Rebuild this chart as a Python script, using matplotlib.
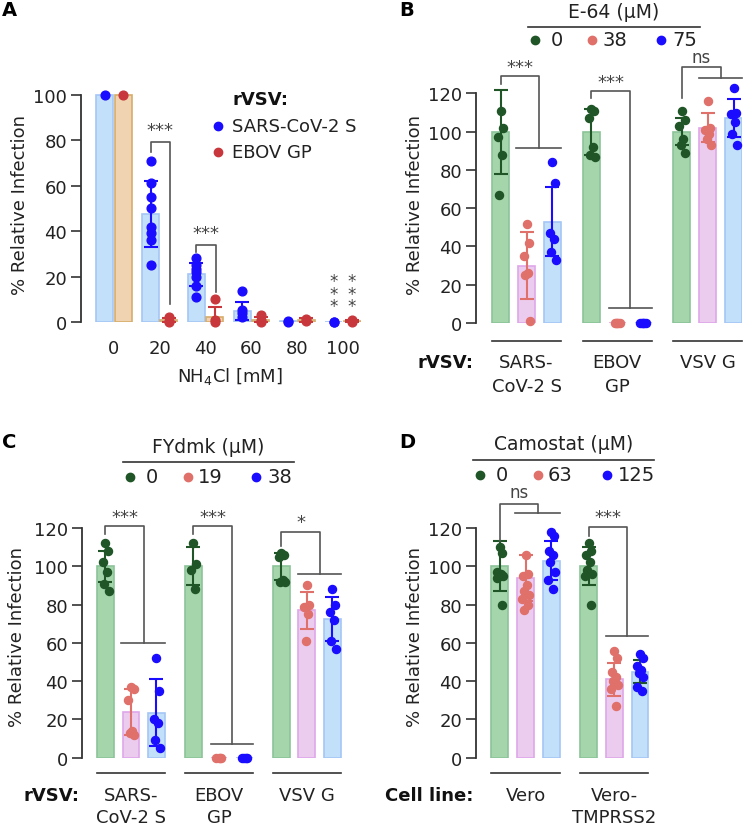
import numpy as np
import matplotlib
matplotlib.use('Agg')
import matplotlib.pyplot as plt
from matplotlib.lines import Line2D

plt.rcParams['font.family'] = ['DejaVu Sans']

# ---- data ----
# A: NH4Cl titration
nh4_conc = ['0', '20', '40', '60', '80', '100']
a_sars_mean = [100, 47.5, 21, 5, 0.3, 0]
a_sars_sd = [0, 14.5, 5, 4, 0, 0]
a_sars_pts = [[100], [71, 61, 55, 50, 42, 39, 36, 25], [28, 25, 23.5, 22, 20, 16, 11],
              [13.5, 5.5, 4, 2], [0.4, 0.2], [0.1, 0]]
a_ebov_mean = [100, 1, 2, 1, 0.8, 0.5]
a_ebov_sd = [0, 0.8, 4.5, 1, 0.8, 0.3]
a_ebov_pts = [[100], [2, 0.5, 0], [10, 1, 0], [3, 1, 0], [1.5, 0.5], [1, 0.2]]

# B: E-64
b_groups = ['SARS-\nCoV-2 S', 'EBOV\nGP', 'VSV G']
b_doses = ['0', '38', '75']
b_mean = [[100, 30, 53], [100, 0, 0], [100, 102, 107]]
b_sd = [[22, 17.5, 18], [12, 0, 0], [7, 7.5, 10]]
b_pts = [[[111, 102, 97, 88, 67], [52, 42, 35, 26, 25, 1], [84, 73, 47, 44, 37, 33]],
         [[112, 111, 107, 92, 88, 87], [0, 0, 0, 0, 0], [0, 0, 0, 0, 0]],
         [[111, 106, 103, 96, 93, 89], [116, 102, 101, 99, 96, 93], [123, 110, 109, 105, 99, 93]]]

# C: FYdmk
c_groups = ['SARS-\nCoV-2 S', 'EBOV\nGP', 'VSV G']
c_doses = ['0', '19', '38']
c_mean = [[100, 24, 23.5], [100, 0, 0], [100, 77, 72.5]]
c_sd = [[8, 12, 17.5], [10, 0, 0], [7, 9.5, 11.5]]
c_pts = [[[112, 108, 102, 97, 91, 87], [37, 36, 30, 14, 13, 12], [52, 35, 20, 18, 9, 5]],
         [[112, 101, 98, 88], [0, 0, 0, 0], [0, 0, 0, 0]],
         [[107, 106, 105, 93, 92, 92], [90, 80, 79, 75, 61], [88, 80, 76, 72, 61, 57]]]

# D: Camostat
d_groups = ['Vero', 'Vero-\nTMPRSS2']
d_doses = ['0', '63', '125']
d_mean = [[100, 94, 103], [100, 41, 45]]
d_sd = [[13, 12, 10], [10, 8.5, 6]]
d_pts = [[[110, 107, 97, 96, 95, 95, 94, 80], [106, 96, 95, 90, 87, 85, 83, 80, 77],
          [118, 116, 108, 106, 102, 97, 93, 88]],
         [[112, 108, 106, 102, 98, 96, 95, 80], [56, 52, 45, 42, 40, 38, 36, 27],
          [54, 52, 48, 46, 44, 42, 37, 35]]]

# ---- style ----
BLUE = '#1a0cff'
BLUE_BAR, BLUE_EDGE = '#c2e0fa', '#a6c6f6'
ORANGE_BAR, ORANGE_EDGE = '#f0d3b0', '#d6ad6c'
RED = '#c8373b'
GREEN = '#1f5527'
GREEN_BAR, GREEN_EDGE = '#a5d5ab', '#8cc49a'
PINK = '#e0706a'
PINK_BAR, PINK_EDGE = '#ecccee', '#dfa6ea'
dot_cols = [GREEN, PINK, BLUE]
bar_cols = [GREEN_BAR, PINK_BAR, BLUE_BAR]
edge_cols = [GREEN_EDGE, PINK_EDGE, BLUE_EDGE]
LINE = '#555555'
AXC = '#333333'
jit = np.array([0, 0.1, -0.1, 0.05, -0.05, 0.13, -0.13, 0.08, -0.08])

W, H = 744, 829
fig = plt.figure(figsize=(W / 100, H / 100), dpi=100)


def rect(x0, x1, ybot, ytop):
    return [x0 / W, 1 - ybot / H, (x1 - x0) / W, (ybot - ytop) / H]


def ftext(x, y, s, **kw):
    fig.text(x / W, 1 - y / H, s, **kw)


def fline(x0, x1, y):
    fig.add_artist(Line2D([x0 / W, x1 / W], [1 - y / H, 1 - y / H], color=AXC, lw=1.2))


def fdot(x, y, c):
    fig.add_artist(Line2D([x / W], [1 - y / H], marker='o', ms=6, color=c, lw=0))


def style(ax, top, step=20):
    for s in ['top', 'right', 'bottom']:
        ax.spines[s].set_visible(False)
    ax.spines['left'].set_color(AXC)
    ax.spines['left'].set_linewidth(1.3)
    ax.spines['left'].set_bounds(0, top)
    ax.set_yticks(np.arange(0, top + 1, step))
    ax.tick_params(axis='y', direction='out', length=7, width=1.2, color=AXC,
                   labelsize=13, labelcolor='#222222', pad=3)
    ax.tick_params(axis='x', length=0)


def bracket(ax, xl, yl, xr, yr, ytop, label, ly, under=None, fs=13):
    ax.plot([xl, xl, xr, xr], [yl, ytop, ytop, yr], color=LINE, lw=1.2, clip_on=False)
    if under is not None:
        ax.plot(under, [yr, yr], color=LINE, lw=1.2, clip_on=False)
    ax.text((xl + xr) / 2, ly, label, ha='center', va='center', fontsize=fs,
            color='#444444', clip_on=False)


def grouped(ax, means, sds, pts, gap, err_override=None):
    for g in range(len(means)):
        for k in range(3):
            x = g * gap + (k - 1)
            ax.bar(x, means[g][k], width=0.66, color=bar_cols[k], edgecolor=edge_cols[k],
                   lw=1.2, zorder=1)
            ec = dot_cols[k]
            if err_override and (g, k) in err_override:
                ec = err_override[(g, k)]
            if sds[g][k] > 0:
                ax.errorbar(x, means[g][k], yerr=sds[g][k], color=ec, capsize=5,
                            lw=1.5, capthick=1.5, zorder=2)
            ys = pts[g][k]
            ax.plot(x + jit[:len(ys)], ys, 'o', ms=5.8, color=dot_cols[k],
                    clip_on=False, zorder=3)


def group_labels(ax, groups, gap, yline, y1, y2, head, xleft):
    for g, lab in enumerate(groups):
        c = g * gap
        ax.plot([c - 1.33, c + 1.33], [yline, yline], color=AXC, lw=1.2, clip_on=False)
        for i, part in enumerate(lab.split('\n')):
            ax.text(c, [y1, y2][i], part, ha='center', va='center', fontsize=13,
                    color='#222222', clip_on=False)
    ax.text(xleft - 0.1, y1, head, ha='right', va='center', fontsize=13,
            fontweight='bold', color='#111111', clip_on=False)


# ---- Panel A ----
axA = fig.add_axes(rect(81, 361.3, 323, 73))
axA.set_xlim(-0.72, 5.4)
axA.set_ylim(0, 110)
style(axA, 100)
for i in range(len(nh4_conc)):
    axA.bar(i - 0.2, a_sars_mean[i], width=0.37, color=BLUE_BAR, edgecolor=BLUE_EDGE, lw=1.2, zorder=1)
    axA.bar(i + 0.2, a_ebov_mean[i], width=0.37, color=ORANGE_BAR, edgecolor=ORANGE_EDGE, lw=1.2, zorder=1)
    if a_sars_sd[i] > 0:
        axA.errorbar(i - 0.2, a_sars_mean[i], yerr=a_sars_sd[i], color=BLUE, capsize=5,
                     lw=1.5, capthick=1.5, zorder=2)
    if a_ebov_sd[i] > 0:
        axA.errorbar(i + 0.2, a_ebov_mean[i], yerr=a_ebov_sd[i], color=RED, capsize=5,
                     lw=1.5, capthick=1.5, zorder=2)
    axA.plot([i - 0.2] * len(a_sars_pts[i]), a_sars_pts[i], 'o', ms=6.3, color=BLUE, clip_on=False, zorder=3)
    axA.plot([i + 0.2] * len(a_ebov_pts[i]), a_ebov_pts[i], 'o', ms=6.3, color=RED, clip_on=False, zorder=3)
axA.set_xticks(range(len(nh4_conc)))
axA.set_xticklabels(nh4_conc)
axA.tick_params(axis='x', labelsize=13, labelcolor='#222222', pad=12)
bracket(axA, 0.8, 75, 1.22, 8, 79, '***', 84.5)
bracket(axA, 1.8, 31, 2.22, 13, 34, '***', 39)
for xs in [4.8, 5.2]:
    axA.text(xs, 12.5, '*\n*\n*', ha='center', va='center', fontsize=12,
             linespacing=0.62, color='#444444')
ftext(230, 377, 'NH$_4$Cl [mM]', ha='center', va='center', fontsize=13, color='#222222')
ftext(232, 100, 'rVSV:', ha='left', va='center', fontsize=13, fontweight='bold', color='#111111')
fdot(218, 127, BLUE)
ftext(232, 127, 'SARS-CoV-2 S', ha='left', va='center', fontsize=13, color='#222222')
fdot(218, 153, RED)
ftext(232, 153, 'EBOV GP', ha='left', va='center', fontsize=13, color='#222222')
ftext(20, 205, '% Relative Infection', rotation=90, ha='center', va='center', fontsize=13, color='#222222')
ftext(9, 11, 'A', ha='center', va='center', fontsize=14, fontweight='bold')

# ---- Panel B ----
axB = fig.add_axes(rect(476, 741.5, 324, 81))
axB.set_xlim(-1.95, 8.3)
axB.set_ylim(0, 127)
style(axB, 120)
axB.set_xticks([])
grouped(axB, b_mean, b_sd, b_pts, 3.5)
bracket(axB, -1, 125, 0.5, 91.6, 129, '***', 134, under=[-0.4, 1.33])
bracket(axB, 2.5, 117.5, 4.0, 8, 121, '***', 126, under=[3.17, 4.83])
bracket(axB, 6, 117.5, 7.5, 128, 133.6, 'ns', 139, under=[6.67, 8.33], fs=12)
group_labels(axB, b_groups, 3.5, -9.4, -20.4, -33, 'rVSV:', -1.95)
ftext(614, 12, 'E-64 (µM)', ha='center', va='center', fontsize=13.5, color='#222222')
fline(528, 700, 28)
for xd, xt, c, lab in zip([535, 592, 661], [557, 615, 685], dot_cols, b_doses):
    fdot(xd, 41, c)
    ftext(xt, 41, lab, ha='center', va='center', fontsize=14, color='#222222')
ftext(415, 205, '% Relative Infection', rotation=90, ha='center', va='center', fontsize=13, color='#222222')
ftext(407, 10, 'B', ha='center', va='center', fontsize=14, fontweight='bold')

# ---- Panel C ----
axC = fig.add_axes(rect(82, 342.6, 758.7, 509.9))
axC.set_xlim(-1.92, 8.3)
axC.set_ylim(0, 130)
style(axC, 120)
axC.set_xticks([])
grouped(axC, c_mean, c_sd, c_pts, 3.45)
bracket(axC, -1, 117, 0.5, 60, 121, '***', 126, under=[-0.4, 1.33])
bracket(axC, 2.45, 117, 3.95, 7, 121, '***', 126, under=[3.12, 4.78])
bracket(axC, 5.9, 110.6, 7.4, 96, 118, '*', 123, under=[6.57, 8.23])
group_labels(axC, c_groups, 3.45, -8.0, -19.5, -31, 'rVSV:', -1.92)
ftext(208, 448, 'FYdmk (µM)', ha='center', va='center', fontsize=13.5, color='#222222')
fline(123, 294, 463)
for xd, xt, c, lab in zip([130, 188, 256], [152, 210, 280], dot_cols, c_doses):
    fdot(xd, 478, c)
    ftext(xt, 478, lab, ha='center', va='center', fontsize=14, color='#222222')
ftext(17, 637, '% Relative Infection', rotation=90, ha='center', va='center', fontsize=13, color='#222222')
ftext(9, 443, 'C', ha='center', va='center', fontsize=14, fontweight='bold')

# ---- Panel D ----
axD = fig.add_axes(rect(476, 649, 758.7, 509.9))
axD.set_xlim(-1.93, 4.8)
axD.set_ylim(0, 130)
style(axD, 120)
axD.set_xticks([])
grouped(axD, d_mean, d_sd, d_pts, 3.45, err_override={(1, 2): GREEN})
bracket(axD, -1, 113, 0.5, 128, 132.5, 'ns', 139, under=[-0.4, 1.33], fs=12)
bracket(axD, 2.45, 116, 3.95, 63.5, 120.6, '***', 126, under=[3.12, 4.78])
group_labels(axD, d_groups, 3.45, -8.0, -19.5, -31, 'Cell line:', -1.93)
ftext(564, 445, 'Camostat (µM)', ha='center', va='center', fontsize=13.5, color='#222222')
fline(473, 654, 461)
for xd, xt, c, lab in zip([480, 538, 607], [502, 560, 637], dot_cols, d_doses):
    fdot(xd, 476, c)
    ftext(xt, 476, lab, ha='center', va='center', fontsize=14, color='#222222')
ftext(415, 637, '% Relative Infection', rotation=90, ha='center', va='center', fontsize=13, color='#222222')
ftext(407, 443, 'D', ha='center', va='center', fontsize=14, fontweight='bold')

fig.savefig('out.png', dpi=100)
